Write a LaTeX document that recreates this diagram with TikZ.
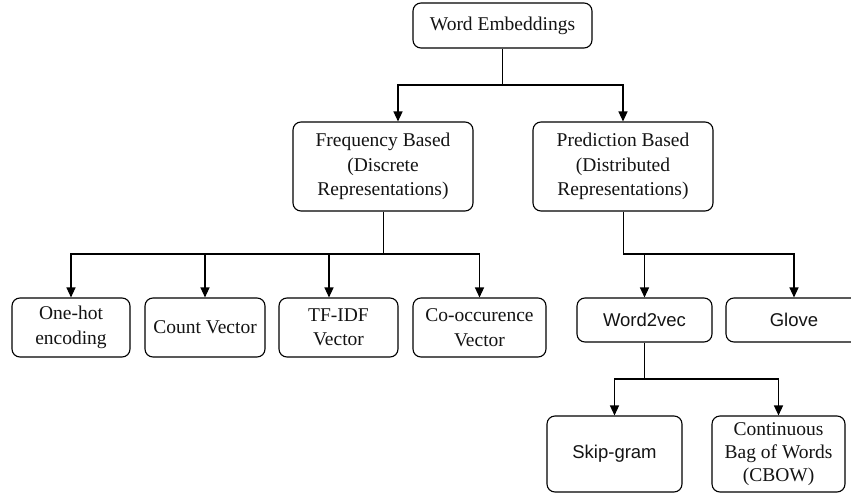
\documentclass[tikz,border=0pt]{standalone}
\usepackage{fontspec}
\setmainfont{Liberation Serif}
\newfontfamily\boxsans{Liberation Sans}
\usetikzlibrary{arrows.meta}
\begin{document}
\begin{tikzpicture}[x=1pt,y=-1pt,
  box/.style={draw=black, line width=1.1pt, rounded corners=8pt, inner sep=0pt,
    align=center, text=black!92, font=\fontsize{19.5}{24.5}\selectfont},
  sbox/.style={box, font=\boxsans\fontsize{18.5}{23}\selectfont},
  stem/.style={draw=black, line width=0.9pt},
  bus/.style={draw=black, line width=1.3pt, -{Triangle[width=9pt,length=10pt]}}
]
\clip (0,0) rectangle (851,495);
\fill[white] (0,0) rectangle (851,495);

% nodes
\node[box, minimum width=179pt, minimum height=45pt] (we) at (502.5,25.5) {Word Embeddings};
\node[box, minimum width=180pt, minimum height=89pt] (fb) at (383,166.5) {Frequency Based\\(Discrete\\Representations)};
\node[box, minimum width=180pt, minimum height=89pt] (pb) at (623,166.5) {Prediction Based\\(Distributed\\Representations)};

\node[box, minimum width=118pt, minimum height=59pt] (oh) at (71,327.5) {One-hot\\encoding};
\node[box, minimum width=120pt, minimum height=59pt] (cv) at (205,327.5) {Count Vector};
\node[box, minimum width=119pt, minimum height=59pt] (tf) at (338.5,327.5) {TF-IDF\\Vector};
\node[box, minimum width=133pt, minimum height=59pt] (co) at (479.5,327.5) {Co-occurence\\Vector};

\node[sbox, minimum width=135pt, minimum height=44pt] (w2v) at (644.5,320) {Word2vec};
\node[sbox, minimum width=136pt, minimum height=44pt] (gl) at (794,320) {Glove};

\node[sbox, minimum width=135pt, minimum height=76pt] (sg) at (614.5,454) {Skip-gram};
\node[box, minimum width=133pt, minimum height=76pt, font=\fontsize{19.5}{23}\selectfont] (cb) at (778.5,454) {Continuous\\Bag of Words\\(CBOW)};

% junctions
\coordinate (j0) at (502.5,85);
\coordinate (j1) at (383,254);
\coordinate (j2) at (623,254);
\coordinate (j3) at (644.5,379);

% connectors
\draw[stem] (we.south) -- (j0);
\draw[bus] (j0) -| ([xshift=15pt]fb.north);
\draw[bus] (j0) -| (pb.north);

\draw[stem] (fb.south) -- (j1);
\draw[bus] (j1) -| (oh.north);
\draw[bus] (j1) -| (cv.north);
\draw[bus] (j1) -| ([xshift=-9.5pt]tf.north);
\draw[bus] (j1) -| (co.north);

\draw[stem] (pb.south) -- (j2);
\draw[bus] (j2) -| (w2v.north);
\draw[bus] (j2) -| (gl.north);

\draw[stem] (w2v.south) -- (j3);
\draw[bus] (j3) -| (sg.north);
\draw[bus] (j3) -| (cb.north);
\end{tikzpicture}
\end{document}
